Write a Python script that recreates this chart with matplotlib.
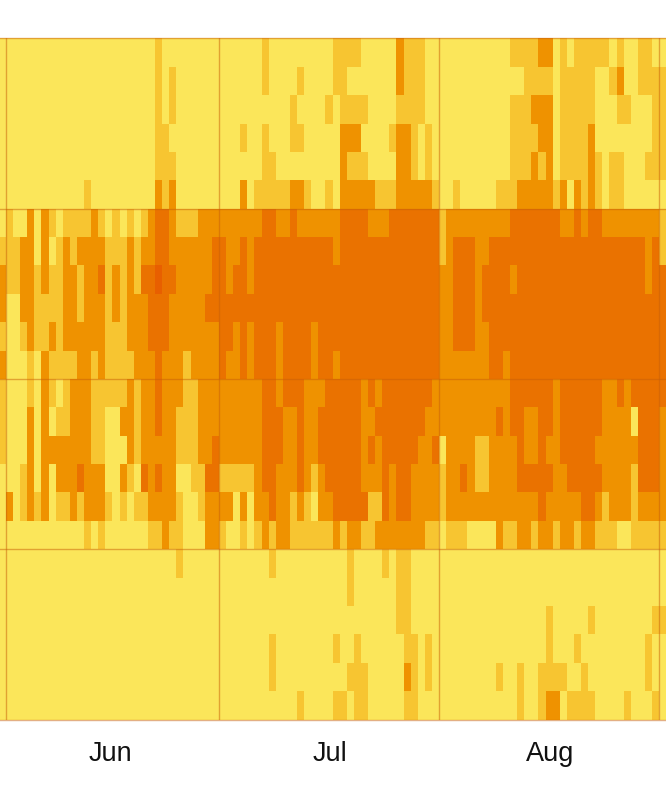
import numpy as np
import matplotlib
matplotlib.use("Agg")
import matplotlib.pyplot as plt
from matplotlib.colors import ListedColormap, BoundaryNorm

month_labels = ["Jun", "Jul", "Aug"]
month_ticks = [15.65, 46.65, 77.65]
month_edges = [1, 31, 62, 93]
block_edges = [0, 6, 12, 18, 24]

may31 = "000000" "012212" "111000" "000000"
sep1  = "011110" "113333" "322221" "001000"

jun = [
"00000 00000 00000 00000 01000 00000",
"00000 00000 00000 00000 01010 00000",
"00000 00000 00000 00000 01010 00000",
"00000 00000 00000 00000 01100 00000",
"00000 00000 00000 00000 01110 00000",
"00000 00000 01000 00000 02120 00000",
"10020 21011 11210 10101 23321 11222",
"11220 20121 22221 11212 23322 22223",
"11221 21122 12231 21213 34332 22223",
"00221 11122 12221 21222 33322 22233",
"00121 12122 22221 11222 33322 22222",
"00010 21111 22121 11122 23222 12222",
"00010 21012 22111 11212 23222 11222",
"00020 20112 22110 02212 23221 11222",
"00020 22222 22110 00212 22221 11223",
"00120 20222 32220 02103 23220 01133",
"20121 20112 12221 01011 22221 00122",
"00000 00000 01010 00000 11211 00022",
"00000 00000 00000 00000 00001 00000",
"00000 00000 00000 00000 00000 00000",
"00000 00000 00000 00000 00000 00000",
"00000 00000 00000 00000 00000 00000",
"00000 00000 00000 00000 00000 00000",
"00000 00000 00000 00000 00000 00000",
]

jul = [
"00000 01000 00000 01111 00000 211100",
"00000 01000 01000 01100 00000 211100",
"00000 00000 10000 10111 10000 111100",
"00010 01000 11000 00222 00001 221010",
"00000 01100 00000 00211 10000 221010",
"00020 11111 22100 10222 22111 222221",
"22222 23322 32222 22333 32223 333333",
"32232 33333 33333 32333 33333 333333",
"32332 33333 33333 33333 33333 333333",
"33333 33333 33333 33333 33333 333333",
"33232 33323 33323 33333 33333 333333",
"32232 33323 33323 32333 33333 333333",
"22222 23323 33222 33333 23233 333332",
"22222 23332 23223 33333 22333 333322",
"22222 23332 23223 33333 23233 333223",
"11111 23322 23212 33333 22232 332222",
"22020 22322 12102 23333 31132 332222",
"10010 12122 11111 12122 11222 222211",
"00000 00100 00000 00010 00010 110000",
"00000 00000 00000 00010 00000 110000",
"00000 00000 00000 00000 00000 110000",
"00000 00100 00000 01001 00000 011010",
"00000 00100 00000 00011 10000 021010",
"00000 00000 01000 01101 10000 011000",
]

aug = [
"00000 00000 11112 20101 11110 100110",
"00000 00000 00111 10111 11001 200111",
"00000 00000 11122 20111 11000 110001",
"00000 00000 11112 20111 12000 000001",
"00000 00000 11121 20111 12101 100011",
"00100 00011 12222 21202 12101 100000",
"12222 22222 33333 33223 23322 222222",
"12333 22333 33333 33333 33333 333323",
"22333 23333 23333 33333 33333 333323",
"22333 23333 33333 33333 33333 333333",
"22333 22333 33333 33333 33333 333333",
"22222 22332 33333 33333 33333 333333",
"22222 22222 33333 32333 33322 323333",
"22222 22232 33223 32333 33322 220333",
"02222 11222 23223 22333 33222 222333",
"12232 11222 23333 32233 33322 221333",
"12222 22222 22223 22222 33212 221222",
"01110 00021 12212 21221 22111 001111",
"00000 00000 00000 00000 00000 000000",
"00000 00000 00000 00000 00000 000000",
"00000 00000 00000 10000 01000 000001",
"00000 00000 00000 10001 00000 000010",
"00000 00010 01001 11100 10000 000010",
"00000 00000 01001 22011 11000 010001",
]

level_colors = ["#FBE65A", "#F7C531", "#EF9200", "#EA7200", "#E85F00"]

rows = [may31[r] + jun[r] + jul[r] + aug[r] + sep1[r] for r in range(24)]
values = np.array([[int(c) for c in row.replace(" ", "")] for row in rows])
assert values.shape == (24, 94)

plt.rcParams["font.family"] = ["Liberation Sans", "DejaVu Sans"]
fig = plt.figure(figsize=(6.66, 7.86), dpi=100, facecolor="white")
ax = fig.add_axes([0, 66.5 / 786, 1, 681 / 786])

cmap = ListedColormap(level_colors)
norm = BoundaryNorm(np.arange(-0.5, 5.5), cmap.N)
ax.pcolormesh(np.arange(95), np.arange(25), values, cmap=cmap, norm=norm,
              shading="flat", linewidth=0, rasterized=True)

ax.set_xlim(1 - 6 / 7.1, 1 + 660 / 7.1)
ax.set_ylim(24, 0)
for e in month_edges:
    ax.axvline(e, color="#C8600A", alpha=0.5, lw=1.0)
for e in block_edges:
    ax.axhline(e, color="#C8600A", alpha=0.5, lw=1.0, clip_on=False)

for s in ax.spines.values():
    s.set_visible(False)
ax.set_yticks([])
ax.set_xticks(month_ticks)
ax.set_xticklabels(month_labels, fontsize=19.5, color="#111111")
ax.tick_params(axis="x", length=0, pad=15.5)

fig.savefig("out.png", dpi=100, facecolor="white")
